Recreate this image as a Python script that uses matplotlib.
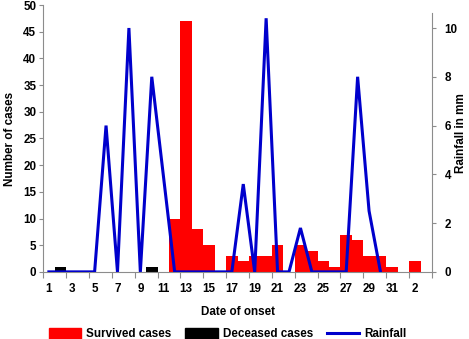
import numpy as np
import matplotlib.pyplot as plt
from matplotlib.patches import Patch
from matplotlib.lines import Line2D

# date of onset (two months in a row)
days = [str(d) for d in range(1, 32)] + ["1", "2", "3"]
survived = [0, 0, 0, 0, 0, 0, 0, 0, 0, 0, 0, 10, 47, 8, 5, 0, 3, 2, 3, 3,
            5, 0, 5, 4, 2, 1, 7, 6, 3, 3, 1, 0, 2, 0]
deceased = [0, 1, 0, 0, 0, 0, 0, 0, 0, 1, 0, 0, 0, 0, 0, 0, 0, 0, 0, 0,
            0, 0, 0, 0, 0, 0, 0, 0, 0, 0, 0, 0, 0, 0]
rainfall = [0, 0, 0, 0, 0, 6, 0, 10, 0, 8, 4, 0, 0, 0, 0, 0, 0, 3.6, 0, 10.4,
            0, 0, 1.8, 0, 0, 0, 0, 8, 2.5, 0]

plt.rcParams['font.family'] = ['Liberation Sans', 'DejaVu Sans']
plt.rcParams['font.weight'] = 'bold'
plt.rcParams['axes.labelweight'] = 'bold'
grey = '#8c8c8c'
fs = 8.4

fig = plt.figure(figsize=(4.69, 3.39), dpi=100)
ax = fig.add_axes([0.092, 0.198, 0.829, 0.787])
x = np.arange(len(days))

ax.bar(x, survived, width=1.0, color='#ff0000', align='center', zorder=2)
ax.bar(x, deceased, width=1.0, color='black', bottom=survived, zorder=2)

ax.set_xlim(-0.5, len(days) - 0.5)
ax.set_ylim(0, 50)
ax.set_yticks(np.arange(0, 51, 5))
ax.set_xticks(np.arange(-0.5, len(days), 2))
ax.set_xticklabels([])
ax.set_xticks(x[::2], minor=True)
ax.set_xticklabels(days[::2], minor=True)
ax.tick_params(axis='x', which='minor', length=0, pad=8, labelsize=fs)
ax.tick_params(axis='x', which='major', length=4, color=grey)
ax.tick_params(axis='y', length=3, color=grey, labelsize=fs, pad=2)
for s in ['top', 'right']:
    ax.spines[s].set_visible(False)
for s in ['left', 'bottom']:
    ax.spines[s].set_color(grey)
ax.set_ylabel('Number of cases', fontsize=fs, labelpad=5)
ax.set_xlabel('Date of onset', fontsize=fs, labelpad=8)

ax2 = ax.twinx()
ax2.plot(np.arange(len(rainfall)), rainfall, color='#0000cc', lw=2.2,
         zorder=3, solid_joinstyle='miter')
ax2.set_ylim(0, 10.94)
ax2.set_yticks(np.arange(0, 11, 2))
ax2.tick_params(axis='y', length=3, color=grey, labelsize=fs, pad=6)
for s in ['top', 'left', 'bottom']:
    ax2.spines[s].set_visible(False)
ax2.spines['right'].set_color(grey)
ax2.spines['right'].set_bounds(0, 10.6)
fig.text(0.9835, 0.607, 'Rainfall in mm', rotation=90, ha='center',
         va='center', fontsize=fs)

handles = [Patch(color='#ff0000'), Patch(color='black'),
           Line2D([], [], color='#0000cc', lw=2.2)]
labels = ['Survived cases', 'Deceased cases', 'Rainfall']
fig.legend(handles, labels, loc='lower center', bbox_to_anchor=(0.485, -0.035),
           ncol=3, frameon=False, fontsize=fs, handlelength=2.8,
           handleheight=1.1, columnspacing=1.2, handletextpad=0.4)

fig.savefig('out.png', dpi=100)
